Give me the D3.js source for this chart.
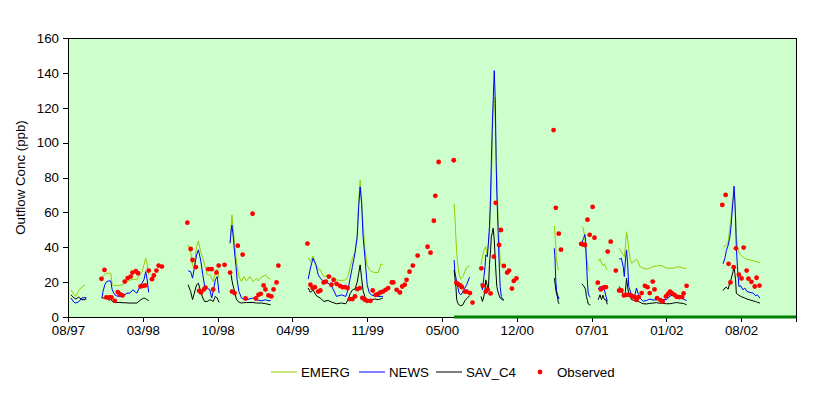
<!DOCTYPE html>
<html>
<head>
<meta charset="utf-8">
<script src="https://cdn.jsdelivr.net/npm/d3@7"></script>
<style>
  body { margin: 0; background: #fff; }
  text { font-family: Arial, "Liberation Sans", sans-serif; font-size: 13.3px; fill: #000; }
</style>
</head>
<body>
<svg id="chart" width="828" height="395"></svg>
<script>
// ---- data ----

const tickDates = ['1997-08-15', '1998-03-06', '1998-09-25', '1999-04-16', '1999-11-05',
  '2000-05-26', '2000-12-15', '2001-07-06', '2002-01-25', '2002-08-16'];
const tickLabels = ['08/97', '03/98', '10/98', '04/99', '11/99', '05/00', '12/00', '07/01', '01/02', '08/02'];
const axisStart = '1997-08-15';
const axisEnd = '2003-01-12';
const yTicks = [0, 20, 40, 60, 80, 100, 120, 140, 160];

const seriesNames = ['EMERG', 'NEWS', 'SAV_C4', 'Observed'];

// model output dates; the last date of each run carries null values (gap)
const modelDates = [
  '1997-08-23', '1997-08-31', '1997-09-05', '1997-09-13', '1997-09-22', '1997-09-30', '1997-10-03', '1997-10-20',
  '1997-11-15', '1997-11-18', '1997-11-23', '1997-11-28', '1997-12-04', '1997-12-09', '1997-12-13', '1997-12-20', '1997-12-26', '1998-01-03', '1998-01-11', '1998-01-22', '1998-01-30', '1998-02-07', '1998-02-18', '1998-02-26', '1998-03-04', '1998-03-09', '1998-03-14', '1998-03-18', '1998-03-22', '1998-05-01',
  '1998-07-07', '1998-07-14', '1998-07-19', '1998-07-23', '1998-07-30', '1998-08-04', '1998-08-10', '1998-08-16', '1998-08-21', '1998-08-28', '1998-09-04', '1998-09-09', '1998-09-13', '1998-09-19', '1998-09-24', '1998-09-29', '1998-10-15',
  '1998-10-29', '1998-11-01', '1998-11-03', '1998-11-06', '1998-11-11', '1998-11-14', '1998-11-17', '1998-11-22', '1998-11-29', '1998-12-05', '1998-12-13', '1998-12-22', '1998-12-30', '1999-01-09', '1999-01-13', '1999-01-22', '1999-02-03', '1999-02-09', '1999-02-16', '1999-04-01',
  '1999-05-29', '1999-06-04', '1999-06-11', '1999-06-19', '1999-06-25', '1999-07-01', '1999-07-10', '1999-07-22', '1999-08-01', '1999-08-14', '1999-08-27', '1999-09-08', '1999-09-14', '1999-09-20', '1999-09-26', '1999-10-03', '1999-10-09', '1999-10-13', '1999-10-17', '1999-10-21', '1999-10-25', '1999-10-30', '1999-11-05', '1999-11-11', '1999-11-18', '1999-11-26', '1999-12-05', '1999-12-13', '1999-12-18', '2000-02-01',
  '2000-06-28', '2000-06-30', '2000-07-03', '2000-07-05', '2000-07-08', '2000-07-12', '2000-07-16', '2000-07-22', '2000-07-27', '2000-08-01', '2000-08-09', '2000-08-25',
  '2000-09-09', '2000-09-13', '2000-09-17', '2000-09-20', '2000-09-22', '2000-09-26', '2000-09-29', '2000-10-02', '2000-10-05', '2000-10-07', '2000-10-10', '2000-10-12', '2000-10-15', '2000-10-18', '2000-10-20', '2000-10-22', '2000-10-25', '2000-10-28', '2000-10-31', '2000-11-03', '2000-11-06', '2000-11-10', '2000-12-01',
  '2001-03-27', '2001-03-29', '2001-03-31', '2001-04-02', '2001-04-05', '2001-04-07', '2001-04-09', '2001-05-01',
  '2001-06-07', '2001-06-10', '2001-06-14', '2001-06-18', '2001-06-20', '2001-06-22', '2001-06-25', '2001-06-27', '2001-06-30', '2001-07-03', '2001-07-15',
  '2001-07-24', '2001-07-29', '2001-08-02', '2001-08-06', '2001-08-10', '2001-08-14', '2001-08-18', '2001-09-01',
  '2001-09-19', '2001-09-25', '2001-09-30', '2001-10-03', '2001-10-06', '2001-10-09', '2001-10-12', '2001-10-15', '2001-10-19', '2001-10-23', '2001-10-30', '2001-11-05', '2001-11-09', '2001-11-14', '2001-11-23', '2001-12-03', '2001-12-11', '2001-12-20', '2001-12-29', '2002-01-12', '2002-01-26', '2002-02-04', '2002-02-13', '2002-02-22', '2002-03-03', '2002-03-12', '2002-03-21', '2002-05-01',
  '2002-06-28', '2002-07-03', '2002-07-07', '2002-07-12', '2002-07-16', '2002-07-19', '2002-07-22', '2002-07-25', '2002-07-28', '2002-07-30', '2002-08-01', '2002-08-03', '2002-08-06', '2002-08-10', '2002-08-15', '2002-08-21', '2002-08-26', '2002-09-01', '2002-09-09', '2002-09-18', '2002-09-24', '2002-09-29', '2002-10-06'
];

const emerg = [
  15.6, 13, 11.8, 15.2, 17.3, 18.3, null, null,
  23, 23.2, 24.5, 25.1, 25.1, 25.1, 18.5, 18, 17.9, 18.2, 18.5, 20.3, 21, 21.7, 21.3, 24.2, 26, 29.9, 33.7, 29.9, 24.2, null,
  41.3, 37, 29.9, 28, 40.3, 43.6, 37.5, 33.7, 30, 24.2, 24.2, 22.3, 20.3, 25.1, 27.4, 22.3, null,
  42.3, 52.7, 58.5, 50.9, 40.3, 34.6, 28.9, 23.2, 20.3, 23.2, 20.7, 23.2, 20.3, 22.3, 20.7, 22.9, 24.2, 22.3, 21.7, null,
  34.3, 31.8, 35, 29.9, 27.4, 27, 23.2, 24, 23, 21.3, 20.9, 21.3, 23.6, 28.9, 33.5, 37.5, 47, 67, 78.5, 67, 51.8, 38.5, 29.9, 27, 26, 25.5, 25.5, 30.5, 29.9, null,
  65.1, 58.5, 45, 37.5, 30, 24.2, 21.7, 23.2, 26, 28.5, 29.3, null,
  30, 34.6, 38.5, 39, 40.3, 34.6, 42, 48, 62, 78, 103, 120, 126, 110, 97.5, 80, 60, 45, 31, 29.5, 28.9, null, null,
  52.2, 47, 40.3, 32.7, 28.9, 27, null, null,
  null, 52, 50.5, 45, 38, 34, 30.9, 27, 26.6, null, null,
  32, 33.4, 31, 29.5, 30.5, 28.5, 27, null,
  39.4, 37.5, 35.5, 34.6, 40.7, 48.9, 45.1, 38.5, 33, 30.9, 32, 33, 31.8, 29, 28, 27.5, 28, 28.9, 29.3, 29.5, 28, 28, 28, 28.7, 28.7, 28, 27.8, null,
  40, 40.7, 41.3, 43, 50.5, 55, 62, 68, 72, 66, 58, 48, 40, 37, 35.6, 34.5, 33.7, 33.1, 32.7, 32.3, 31.8, 31.5, 31.2
];

const news = [
  10.9, 8.5, 8, 8.7, 10.9, 11.2, 9.9, null,
  10.9, 14.6, 18.5, 20.3, 20.7, 20.7, 15.6, 12.7, 12, 11.8, 11.8, 13.7, 13.7, 15.6, 13.7, 17.5, 19.5, 21.3, 26, 21.3, 14.1, null,
  26.5, 26, 22.3, 27, 35.6, 38.5, 32.7, 24.2, 17.5, 16.6, 15.6, 10.9, 14.6, 21.3, 23.2, 13.7, null,
  42.3, 49.9, 52.7, 47, 35, 28.9, 21.3, 14.6, 10.9, 10.3, 9.9, 10.5, 10.9, 9.9, 9.7, 9.3, 9.9, 9.3, 9.5, null,
  21.7, 28, 33.7, 29.9, 24.2, 22.3, 20.3, 19.4, 17.5, 11.8, 12.7, 11.8, 15.6, 22.3, 28.9, 36.6, 46, 63.2, 74.6, 65.1, 46, 34, 18.5, 13.7, 12.5, 12.2, 11.8, 11.8, 11.8, null,
  32.7, 26, 22.5, 19.5, 17, 13.5, 12.7, 14.5, 16.5, 18.5, 22.9, null,
  19.4, 15.6, 23.2, 28.9, 35.6, 34.6, 42, 52, 70, 88, 112, 124.2, 141.3, 122.3, 89.9, 70.9, 51.8, 32.7, 17.5, 11.8, 10.3, 9.9, null,
  39.4, 32.7, 21, 15, 12.5, 11.5, 10.3, null,
  41.5, 42.6, 45, 47.3, 44, 32.7, 19.4, 13.7, 11.8, 11.4, null,
  16, 17.5, 15, 16.5, 15.5, 12, 9, null,
  33.1, 33.7, 28.9, 23.2, 32.7, 38.5, 30.9, 17.5, 15, 12, 11, 16.6, 13.7, 11, 9, 9.5, 10.3, 9.7, 9.9, 9.9, 10, 12, 12.7, 11.8, 10.9, 10.3, 9.4, null,
  30.5, 33.7, 38.1, 41.3, 45.1, 50.3, 58.5, 67, 75, 67, 55.6, 40.3, 28.9, 17.5, 17.9, 15.6, 16.6, 14.6, 14.1, 13.7, 12.2, 12.7, 10.9
];

const savC4 = [
  12.7, 11, 10.3, 11.4, 9.9, 9.9, 11.4, null,
  10.9, 10.9, 10.9, 10.9, 9.5, 10.3, 9, 8.3, 8.3, 8.3, 8.2, 8.1, 8, 8, 8, 9.5, 10.3, 10.9, 10.5, 9.8, 9.5, null,
  18.5, 14.6, 10, 13, 18.5, 19.4, 14.6, 10.9, 8.9, 8.9, 9.9, 9.5, 8.9, 11.8, 10.9, 8.3, null,
  null, 24.2, 21, 18, 14, 10.9, 9.5, 8.5, 8, 8.2, 8.3, 8.3, 8.3, 8, 8, 8, 7.6, 7.3, 7, null,
  16.6, 14.1, 15.6, 12.5, 11.5, 10.9, 8.9, 9.5, 8.5, 7.6, 8, 7.6, 9.9, 13.5, 15.5, 16.1, 20, 25, 29.9, 22, 15, 11.5, 10, 9.9, 10, 10.3, 9.9, 10.5, 10.9, null,
  27, 23, 17, 10, 8, 6.8, 6.5, 7, 9.3, 10.5, 12.2, null,
  11.8, 8.9, 12, 15.6, 21.3, 18, 15.6, 30, 38.5, 46, 48.5, 50.9, 44.2, 32, 24, 17.5, 14.5, 12.5, 10.9, 10.3, 9.9, 9.7, null,
  22.3, 19.4, 15.6, 13.7, 10.9, 8.3, 7.5, null,
  null, 19, 18, 16.6, 15.6, 11.8, 9.5, 7.5, 7, 7, null,
  9.9, 12.7, 10, 12.5, 10, 9.9, 7.3, null,
  17.5, 15.6, 13, 11.8, 14.6, 22.3, 17, 13.5, 11.5, 9.9, 9.5, 9.2, 9, 8.5, 7.6, 7.5, 7.8, 8, 8.2, 7.8, 7.6, 7.6, 8, 8.3, 8, 7.8, 7, null,
  15.2, 16.6, 17.1, 16, 19.4, 21, 23.5, 26, 28.6, 25, 21.3, 13.7, 13, 12.5, 11.8, 11.3, 10.9, 10.3, 9.8, 9.2, 8.9, 8.4, 8
];

const obsDates = [
  '1997-11-14', '1997-11-22', '1997-11-27', '1997-12-05', '1997-12-11', '1997-12-20', '1997-12-28', '1998-01-03', '1998-01-10', '1998-01-16', '1998-01-24', '1998-02-01', '1998-02-06', '1998-02-15', '1998-02-21', '1998-02-28', '1998-03-07', '1998-03-13', '1998-03-22', '1998-03-31', '1998-04-05', '1998-04-12', '1998-04-18', '1998-04-27',
  '1998-07-05', '1998-07-14', '1998-07-19', '1998-07-28', '1998-08-06', '1998-08-11', '1998-08-19', '1998-08-23', '1998-08-31', '1998-09-09', '1998-09-13', '1998-09-22', '1998-09-28', '1998-10-14', '1998-10-29', '1998-11-03', '1998-11-10', '1998-11-19', '1998-12-02', '1998-12-10', '1998-12-29', '1999-01-07', '1999-01-14', '1999-01-20', '1999-01-28', '1999-02-02', '1999-02-10', '1999-02-18', '1999-02-24', '1999-03-04', '1999-03-09',
  '1999-05-27', '1999-06-04', '1999-06-10', '1999-06-16', '1999-06-25', '1999-07-01', '1999-07-10', '1999-07-16', '1999-07-24', '1999-07-31', '1999-08-06', '1999-08-14', '1999-08-23', '1999-08-30', '1999-09-06', '1999-09-13', '1999-09-19', '1999-09-26', '1999-10-03', '1999-10-09', '1999-10-16', '1999-10-23', '1999-10-30', '1999-11-05', '1999-11-14', '1999-11-20', '1999-11-28', '1999-12-05', '1999-12-11', '1999-12-18', '1999-12-25', '2000-01-01', '2000-01-11', '2000-01-15', '2000-01-24', '2000-02-02', '2000-02-08', '2000-02-15', '2000-02-20', '2000-02-28', '2000-03-08', '2000-03-21', '2000-04-17', '2000-04-25', '2000-05-04', '2000-05-08', '2000-05-17', '2000-06-27',
  '2000-07-04', '2000-07-09', '2000-07-15', '2000-07-19', '2000-07-27', '2000-08-01', '2000-08-10', '2000-08-17',
  '2000-09-10', '2000-09-14', '2000-09-22', '2000-09-27', '2000-10-05', '2000-10-14', '2000-10-19', '2000-10-28', '2000-11-02', '2000-11-10', '2000-11-19', '2000-11-24', '2000-12-02', '2000-12-07', '2000-12-14',
  '2001-03-25', '2001-03-31', '2001-04-08', '2001-04-14',
  '2001-06-08', '2001-06-12', '2001-06-18', '2001-06-25', '2001-07-01', '2001-07-09', '2001-07-14',
  '2001-07-23', '2001-07-31', '2001-08-04', '2001-08-09', '2001-08-14', '2001-08-19', '2001-08-27', '2001-09-10',
  '2001-09-19', '2001-09-25', '2001-10-02', '2001-10-09', '2001-10-15', '2001-10-21', '2001-10-25', '2001-10-31', '2001-11-05', '2001-11-11', '2001-11-19', '2001-11-28', '2001-12-05', '2001-12-11', '2001-12-19', '2001-12-24', '2001-12-31', '2002-01-09', '2002-01-15', '2002-01-24', '2002-01-30', '2002-02-04', '2002-02-09', '2002-02-16', '2002-02-22', '2002-03-01', '2002-03-09', '2002-03-13', '2002-03-21',
  '2002-06-26', '2002-07-05', '2002-07-13', '2002-07-18', '2002-07-27', '2002-08-02', '2002-08-10', '2002-08-17', '2002-08-23', '2002-08-31', '2002-09-05', '2002-09-13', '2002-09-22', '2002-09-27', '2002-10-05'
];

const observed = [
  21.9, 27, 11.2, 11.2, 11.2, 9.3, 14.3, 13.1, 12.4, 20.3, 22.3, 23.2, 25.5, 26.3, 25.1, 17.5, 17.9, 18.1, 26.6, 21.7, 23.8, 26.6, 29.5, 28.9,
  54.1, 39, 32.7, 28.6, 15, 14.1, 15.8, 16.9, 27.4, 27.4, 15.8, 25.5, 29.5, 29.9, 25.5, 14.6, 13.7, 40.9, 35.8, 10.6, 59.2, 10.6, 12.7, 13.3, 18.1, 15.8, 12.4, 11.8, 15.8, 19.8, 29.5,
  42.1, 18.5, 16.6, 17.1, 14.6, 15.2, 19.8, 20.3, 23.2, 18.5, 21.3, 19, 17.9, 17.1, 17.1, 16.6, 10.3, 10.3, 11.8, 16, 16.6, 10.9, 9.9, 9.3, 9.3, 15.2, 12.7, 13.3, 14.1, 14.6, 15.6, 16.6, 19.8, 19.8, 15.6, 14.1, 17.5, 18.5, 21.3, 26, 29.5, 35.2, 40.3, 36.9, 55.2, 69.5, 88.9, 89.9,
  19.6, 18.9, 18.1, 17.1, 14.6, 14.6, 13.7, 8.3,
  27.9, 18, 14.6, 15.8, 13.5, 34.6, 65.5, 41.3, 49.9, 29.3, 25.5, 26.6, 16.3, 20.7, 22.1,
  107.2, 62.6, 47.8, 38.6,
  41.9, 41.7, 41.3, 55.8, 47.1, 63.1, 45.5,
  19.7, 15.8, 16.6, 17, 17.1, 37.5, 43.2, 26.6,
  15.2, 15.2, 12.4, 12.7, 12.7, 12.4, 11.8, 11.4, 9.8, 11.4, 13.7, 17.9, 17.1, 13.7, 20.3, 15.8, 10.8, 9.7, 8.9, 11.8, 13.3, 14.6, 13.7, 12.7, 11.6, 11.4, 11.4, 13.5, 17.9,
  64.3, 70, 30.5, 19.8, 28.6, 39.4, 24.3, 22.1, 39.8, 26.6, 22, 20.2, 17.5, 22.5, 18
];

// dark green reference bar along the axis
const baselineDates = ['2000-06-28', '2003-01-12'];
const baseline = [0, 0];

// ---- chart ----

const parse = d3.timeParse('%Y-%m-%d');

const margin = { top: 38, left: 68 };
const width = 728;
const height = 279;

const colors = {
  EMERG: '#99CC00',
  NEWS: '#0000FF',
  SAV_C4: '#000000',
  Observed: '#FF0000'
};

const x = d3.scaleTime()
    .domain([parse(axisStart), parse(axisEnd)])
    .range([0, width]);

const y = d3.scaleLinear()
    .domain([0, 160])
    .range([height, 0]);

const svg = d3.select('#chart');

svg.append('rect')
    .attr('width', 828)
    .attr('height', 395)
    .attr('fill', '#fff');

const g = svg.append('g')
    .attr('transform', `translate(${margin.left}, ${margin.top})`);

g.append('rect')
    .attr('class', 'plot-bg')
    .attr('width', width)
    .attr('height', height)
    .attr('fill', '#CCFFCC')
    .attr('stroke', '#000')
    .attr('stroke-width', 1)
    .attr('shape-rendering', 'crispEdges');

// axes

const xAxis = d3.axisBottom(x)
    .tickValues(tickDates.map(parse))
    .tickFormat((d, i) => tickLabels[i])
    .tickSizeOuter(0)
    .tickSize(5)
    .tickPadding(4);

const yAxis = d3.axisLeft(y)
    .tickValues(yTicks)
    .tickSizeOuter(0)
    .tickSize(5)
    .tickPadding(4);

g.append('g')
    .attr('class', 'x axis')
    .attr('transform', `translate(0, ${height})`)
    .call(xAxis)
    .call(a => a.selectAll('line, path').attr('stroke', '#000').attr('shape-rendering', 'crispEdges'))
    .call(a => a.selectAll('text').style('font-size', '13.3px'));

g.append('g')
    .attr('class', 'y axis')
    .call(yAxis)
    .call(a => a.selectAll('line, path').attr('stroke', '#000').attr('shape-rendering', 'crispEdges'))
    .call(a => a.selectAll('text').style('font-size', '13.3px'));

svg.append('text')
    .attr('transform', `translate(20, ${margin.top + height / 2}) rotate(-90)`)
    .attr('text-anchor', 'middle')
    .attr('dominant-baseline', 'central')
    .text('Outflow Conc (ppb)');

// lines

const model = modelDates.map((d, i) => ({
  date: parse(d),
  EMERG: emerg[i],
  NEWS: news[i],
  SAV_C4: savC4[i]
}));

const plot = g.append('g')
    .attr('class', 'series');

['EMERG', 'NEWS', 'SAV_C4'].forEach(key => {
  const line = d3.line()
      .defined(d => d[key] != null)
      .x(d => x(d.date))
      .y(d => y(d[key]));

  plot.append('path')
      .datum(model)
      .attr('fill', 'none')
      .attr('stroke', colors[key])
      .attr('stroke-width', 1)
      .attr('d', line);
});

const obs = obsDates.map((d, i) => ({ date: parse(d), value: observed[i] }));

plot.selectAll('.obs')
  .data(obs)
  .join('circle')
    .attr('class', 'obs')
    .attr('cx', d => x(d.date))
    .attr('cy', d => y(d.value))
    .attr('r', 2.4)
    .attr('fill', colors.Observed);

const base = baselineDates.map((d, i) => ({ date: parse(d), value: baseline[i] }));

plot.append('path')
    .datum(base)
    .attr('fill', 'none')
    .attr('stroke', '#008000')
    .attr('stroke-width', 3)
    .attr('d', d3.line().x(d => x(d.date)).y(d => y(d.value)));

// legend

const legendX = [271, 359, 436, 530];
const legend = svg.append('g')
    .attr('class', 'legend')
    .attr('transform', 'translate(0, 372)');

const items = legend.selectAll('.item')
  .data(seriesNames)
  .join('g')
    .attr('class', 'item')
    .attr('transform', (d, i) => `translate(${legendX[i]}, 0)`);

items.filter(d => d !== 'Observed')
  .append('line')
    .attr('x1', 0)
    .attr('x2', 26)
    .attr('stroke', d => colors[d])
    .attr('stroke-width', 1);

items.filter(d => d === 'Observed')
  .append('circle')
    .attr('cx', 10)
    .attr('r', 2.4)
    .attr('fill', colors.Observed);

items.append('text')
    .attr('x', d => d === 'Observed' ? 27 : 30)
    .attr('dominant-baseline', 'central')
    .text(d => d);
</script>
</body>
</html>
